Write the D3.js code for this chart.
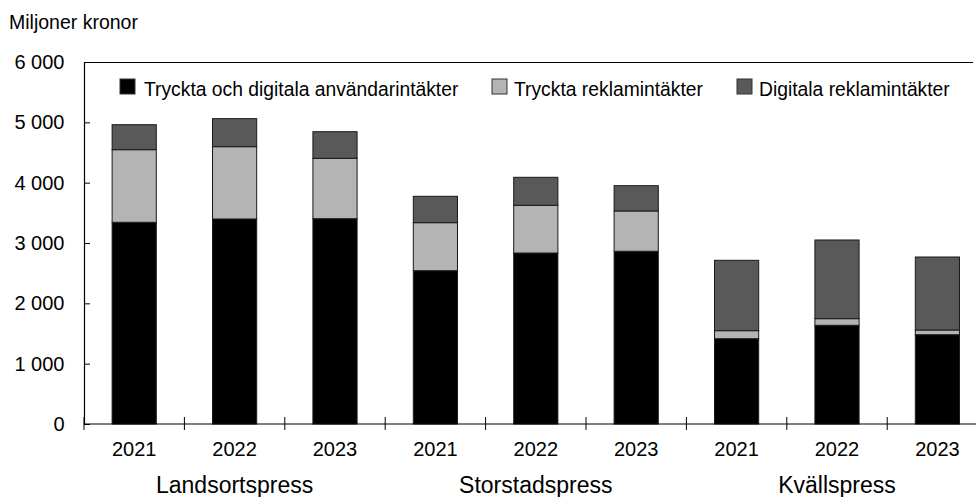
<!DOCTYPE html>
<html>
<head>
<meta charset="utf-8">
<script src="https://cdn.jsdelivr.net/npm/d3@7"></script>
<style>
  html, body { margin: 0; padding: 0; background: #fff; }
  svg { display: block; font-family: Arial, "Liberation Sans", sans-serif; }
</style>
</head>
<body>
<svg id="chart" width="976" height="497"></svg>
<script>
const groups = ["Landsortspress", "Storstadspress", "Kvällspress"];
const years = ["2021", "2022", "2023"];
const seriesNames = ["Tryckta och digitala användarintäkter", "Tryckta reklamintäkter", "Digitala reklamintäkter"];
const anvandarintakter = [3343, 3398, 3403, 2541, 2834, 2863, 1414, 1636, 1480];
const tryckReklam = [1204, 1199, 1001, 796, 791, 668, 133, 110, 78];
const digitalReklam = [414, 464, 441, 437, 464, 419, 1166, 1304, 1210];
const yTicks = [0, 1000, 2000, 3000, 4000, 5000, 6000];

const colors = ["#000000", "#b4b4b4", "#595959"];

const rows = anvandarintakter.map((v, i) => ({
  idx: i,
  group: groups[Math.floor(i / 3)],
  year: years[i % 3],
  s0: v,
  s1: tryckReklam[i],
  s2: digitalReklam[i]
}));

const svg = d3.select("#chart");
const plotLeft = 84, plotTop = 62, plotBottom = 424;

const x = d3.scaleBand()
  .domain(d3.range(rows.length))
  .range([plotLeft, 987.6])
  .paddingInner(0.56)
  .paddingOuter(0.28);
const step = x.step();

const y = d3.scaleLinear().domain([0, 6000]).range([plotBottom, plotTop]);

const locale = d3.formatLocale({ decimal: ",", thousands: "\u00a0", grouping: [3], currency: ["", " kr"] });
const fmt = locale.format(",d");

// title
svg.append("text")
  .attr("x", 9).attr("y", 29)
  .attr("font-size", 19.5)
  .text("Miljoner kronor");

// frame top
svg.append("line")
  .attr("x1", plotLeft).attr("x2", 973)
  .attr("y1", plotTop + 0.5).attr("y2", plotTop + 0.5)
  .attr("stroke", "#000").attr("stroke-width", 1.2);

// bars
const stack = d3.stack().keys(["s0", "s1", "s2"]);
const layers = stack(rows);

svg.append("g")
  .selectAll("g")
  .data(layers)
  .join("g")
  .attr("fill", (d, i) => colors[i])
  .selectAll("rect")
  .data(d => d)
  .join("rect")
  .attr("x", d => x(d.data.idx))
  .attr("y", d => y(d[1]))
  .attr("width", x.bandwidth())
  .attr("height", d => y(d[0]) - y(d[1]))
  .attr("stroke", "#1a1a1a")
  .attr("stroke-width", 1);

// y axis
const yAxis = svg.append("g")
  .attr("transform", `translate(${plotLeft},0)`)
  .call(d3.axisLeft(y).tickValues(yTicks).tickFormat(fmt).tickSize(-6).tickPadding(19.5));
yAxis.select(".domain").attr("stroke", "#000").attr("stroke-width", 1.2);
yAxis.selectAll(".tick line").attr("stroke", "#000");
yAxis.selectAll(".tick text")
  .attr("font-size", 20)
  .attr("font-family", "Arial, 'Liberation Sans', sans-serif")
  .attr("fill", "#000");

// x axis line
svg.append("line")
  .attr("x1", plotLeft).attr("x2", 976)
  .attr("y1", plotBottom).attr("y2", plotBottom)
  .attr("stroke", "#000").attr("stroke-width", 1.2);

// category boundary ticks
const firstEdge = x(0) - step * x.paddingOuter();
svg.append("g")
  .selectAll("line")
  .data(d3.range(rows.length + 1))
  .join("line")
  .attr("x1", i => firstEdge + i * step)
  .attr("x2", i => firstEdge + i * step)
  .attr("y1", plotBottom - 7)
  .attr("y2", plotBottom + 6)
  .attr("stroke", "#000")
  .attr("stroke-width", 1);

// year labels
svg.append("g")
  .selectAll("text")
  .data(rows)
  .join("text")
  .attr("x", d => x(d.idx) + x.bandwidth() / 2)
  .attr("y", 456)
  .attr("text-anchor", "middle")
  .attr("font-size", 20)
  .text(d => d.year);

// group labels
svg.append("g")
  .selectAll("text")
  .data(groups)
  .join("text")
  .attr("x", (d, i) => x(i * 3 + 1) + x.bandwidth() / 2)
  .attr("y", 493)
  .attr("text-anchor", "middle")
  .attr("font-size", 23)
  .text(d => d);

// legend
const legendX = [120, 492, 737];
const legend = svg.append("g")
  .selectAll("g")
  .data(seriesNames)
  .join("g")
  .attr("transform", (d, i) => `translate(${legendX[i]},79)`);
legend.append("rect")
  .attr("width", 15).attr("height", 15)
  .attr("fill", (d, i) => colors[i])
  .attr("stroke", "#333").attr("stroke-width", 1);
legend.append("text")
  .attr("x", (d, i) => i === 0 ? 24 : 22)
  .attr("y", 17)
  .attr("font-size", 19.3)
  .text(d => d);
</script>
</body>
</html>
